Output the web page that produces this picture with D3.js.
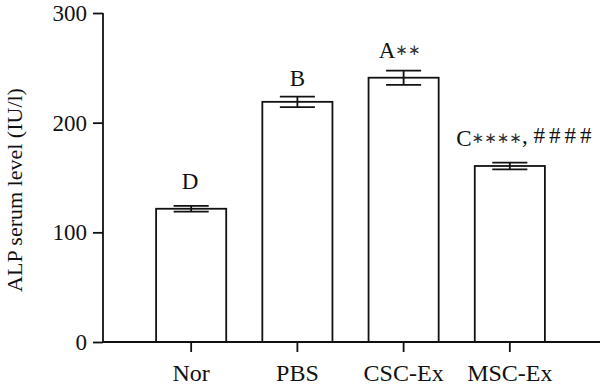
<!DOCTYPE html>
<html>
<head>
<meta charset="utf-8">
<script src="https://cdn.jsdelivr.net/npm/d3@7"></script>
<style>
  html, body { margin: 0; padding: 0; background: #fff; }
  svg { display: block; }
  text { font-family: "Liberation Serif", "Times New Roman", serif; fill: #111; }
</style>
</head>
<body>
<svg id="chart" width="600" height="390"></svg>
<script>
const categories = ["Nor", "PBS", "CSC-Ex", "MSC-Ex"];
const means = [121.5, 219, 241, 160.5];
const errors = [2.7, 4.8, 6.5, 3.0];
const annLetters = ["D", "B", "A", "C"];
const annStars = ["", "", "∗∗", "∗∗∗∗"];
const annHashes = ["", "", "", "####"];
const yTicks = [0, 100, 200, 300];
const yTitle = "ALP serum level (IU/l)";

const svg = d3.select("#chart");
const x = d3.scaleBand().domain(categories).range([103, 598]).paddingInner(0.34).paddingOuter(0.5);
const y = d3.scaleLinear().domain([0, 300]).range([342, 13]);
const ink = "#111";
const lw = 1.8;

// bars
svg.append("g").selectAll("rect").data(categories).join("rect")
  .attr("x", d => x(d))
  .attr("y", (d, i) => y(means[i]))
  .attr("width", x.bandwidth())
  .attr("height", (d, i) => y(0) - y(means[i]))
  .attr("fill", "#fff")
  .attr("stroke", ink)
  .attr("stroke-width", lw);

// error bars
const eg = svg.append("g").attr("stroke", ink).attr("stroke-width", lw);
const capW = x.bandwidth() * 0.5;
categories.forEach((c, i) => {
  const cx = x(c) + x.bandwidth() / 2;
  const top = y(means[i] + errors[i]);
  const bot = y(means[i] - errors[i]);
  eg.append("line").attr("x1", cx).attr("x2", cx).attr("y1", top).attr("y2", bot);
  eg.append("line").attr("x1", cx - capW / 2).attr("x2", cx + capW / 2).attr("y1", top).attr("y2", top);
  eg.append("line").attr("x1", cx - capW / 2).attr("x2", cx + capW / 2).attr("y1", bot).attr("y2", bot);
});

// annotations
const annDx = [-1, 0, -4, 16];
const annGap = [17, 11, 13, 17];
const ag = svg.append("g");
categories.forEach((c, i) => {
  const t = ag.append("text")
    .attr("x", x(c) + x.bandwidth() / 2 + annDx[i])
    .attr("y", y(means[i] + errors[i]) - annGap[i])
    .attr("text-anchor", "middle")
    .attr("font-size", 23);
  t.append("tspan").text(annLetters[i]);
  if (annStars[i]) {
    t.append("tspan").attr("font-family", "DejaVu Sans").attr("font-size", 15)
      .attr("dy", -3).attr("fill", "#333").text(annStars[i]);
    t.append("tspan").attr("dy", 3).text("");
  }
  if (annHashes[i]) {
    t.append("tspan").text(", ");
    t.append("tspan").attr("letter-spacing", 4).text(annHashes[i]);
  }
});

// y axis
const yAxis = d3.axisLeft(y).tickValues(yTicks).tickSize(10).tickPadding(6).tickFormat(d3.format("d"));
const yg = svg.append("g").attr("transform", "translate(103,0)").call(yAxis);
yg.select(".domain").attr("d", `M0,${y(300)}V${y(0)}`);
yg.selectAll("path, line").attr("stroke", ink).attr("stroke-width", lw);
yg.selectAll("text").attr("font-size", 23).attr("font-family", "Liberation Serif").attr("fill", ink);

// x axis
const xAxis = d3.axisBottom(x).tickSize(10).tickPadding(12);
const xg = svg.append("g").attr("transform", `translate(0,${y(0)})`).call(xAxis);
xg.select(".domain").attr("d", `M103,0H600`);
xg.selectAll("path, line").attr("stroke", ink).attr("stroke-width", lw);
xg.selectAll("text").attr("font-size", 24).attr("font-family", "Liberation Serif").attr("fill", ink);

// y title
svg.append("text")
  .attr("transform", "translate(22,190) rotate(-90)")
  .attr("text-anchor", "middle")
  .attr("font-size", 22)
  .text(yTitle);
</script>
</body>
</html>
